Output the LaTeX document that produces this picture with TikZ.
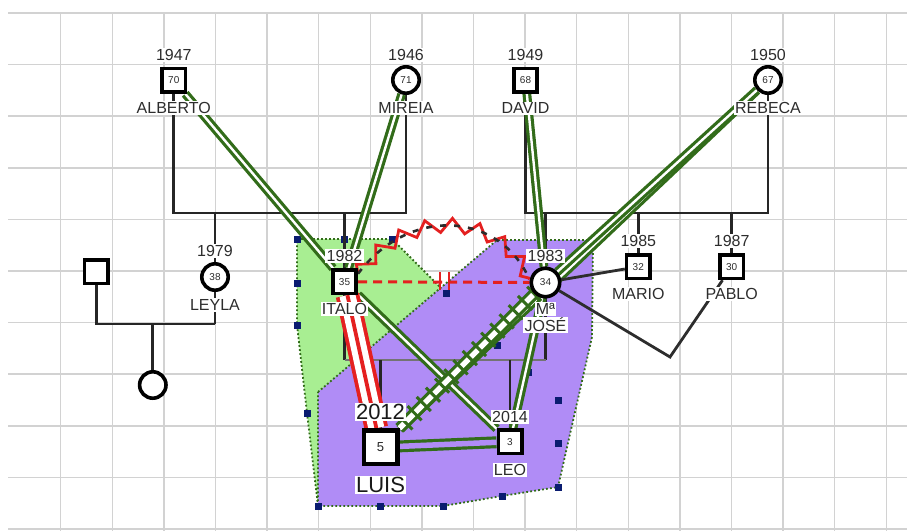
\documentclass[tikz,border=0pt]{standalone}
\usepackage{fontspec}
\setmainfont{Liberation Sans}
\usetikzlibrary{calc,decorations.pathmorphing,decorations.pathreplacing}

\definecolor{gridgray}{RGB}{210,210,210}
\definecolor{bondgreen}{RGB}{50,108,26}
\definecolor{hullgreen}{RGB}{168,238,146}
\definecolor{hullpurple}{RGB}{176,140,246}
\definecolor{marknavy}{RGB}{10,28,112}
\definecolor{hostred}{RGB}{228,32,32}
\definecolor{inkgray}{RGB}{45,45,45}

\pgfdeclarelayer{gridlayer}
\pgfdeclarelayer{linklayer}
\pgfsetlayers{gridlayer,linklayer,main}

\tikzset{
	male/.style={draw=black, line width=3.6pt, fill=white, minimum size=23.4pt, inner sep=0pt,
		text=inkgray, font=\fontsize{10}{10}\selectfont},
	female/.style={male, circle, minimum size=26.4pt},
	yearlab/.style={fill=white, inner sep=1.3pt, text=inkgray, font=\fontsize{16}{16}\selectfont},
	famline/.style={draw=black!85, line width=2.8pt},
	closebond/.style={draw=bondgreen, line width=3.2pt, double=white, double distance=2.4pt},
	hostbond/.style={draw=hostred, line width=3.8pt, double=white, double distance=16pt},
	hullline/.style={draw=bondgreen, line width=1.8pt, dash pattern=on 1.8pt off 2.2pt},
	gridline/.style={draw=gridgray, line width=1.5pt},
}
\def\hullmark(#1,#2){\fill[marknavy] (#1-3.5,#2-3.5) rectangle ++(7,7);}
\def\persontags(#1)(#2:#3)(#4:#5){%
	\node[yearlab] (#1-year) at ([yshift=#2pt]#1) {#3};
	\node[yearlab] (#1-name) at ([yshift=#4pt]#1) {#5};}

\begin{document}
\begin{tikzpicture}[x=1pt, y=-1pt]
			%%%%% START %%%%%
			\useasboundingbox (0,0) rectangle (907,531);
			
			% grandparents
			\node[male] (alberto) at (173.8,80.3) {70};
			\node[female] (mireia) at (406,80) {71};
			\node[male] (david) at (525.5,80.3) {68};
			\node[female] (rebeca) at (768,80) {67};
			\persontags(alberto)(25:1947)(-28:ALBERTO)
			\persontags(mireia)(25:1946)(-28:MIREIA)
			\persontags(david)(25:1949)(-28:DAVID)
			\persontags(rebeca)(25:1950)(-28:REBECA)
			
			% parents
			\node[female] (leyla) at (215,277) {38};
			\node[male] (partner) at (96.3,271.7) {};
			\node[female] (daughter) at (152.8,385) {};
			\node[male] (italo) at (344.5,281.7) {35};
			\node[female, minimum size=28.4pt] (jose) at (545.5,282.5) {34};
			\node[male] (mario) at (638.3,266.7) {32};
			\node[male] (pablo) at (731.7,266.7) {30};
			\persontags(leyla)(26:1979)(-28:LEYLA)
			\persontags(italo)(25.5:1982)(-27.5:ITALO)
			\persontags(mario)(25.5:1985)(-27.5:MARIO)
			\persontags(pablo)(25.5:1987)(-27.5:PABLO)
			\node[yearlab] (jose-year) at ([yshift=26.5pt]jose) {1983};
			\node[yearlab] (jose-name) at ([yshift=-26.5pt]jose) {Mª};
			\node[yearlab] (jose-name2) at ([yshift=-42.5pt]jose) {JOSÉ};
			
			% children
			\node[male, minimum size=33.6pt, line width=4.4pt, text=black!85, font=\fontsize{13}{13}\selectfont] (luis) at (380.5,447.2) {5};
			\node[male] (leo) at (510,441.7) {3};
			\node[yearlab, text=black!90, font=\fontsize{22}{22}\selectfont] (luis-year) at ([yshift=35.2pt]luis) {2012};
			\node[yearlab, text=black!90, font=\fontsize{22}{22}\selectfont] (luis-name) at ([yshift=-37.8pt]luis) {LUIS};
			\persontags(leo)(24.7:2014)(-28.3:LEO)
			
			\begin{pgfonlayer}{linklayer}
				\coordinate (barA) at (0,213);
				\coordinate (barL) at (0,324);
				\coordinate (barI) at (0,360);
				\coordinate (pabloBend) at (670,357);
				
				% family lines
				\draw[famline] (alberto) -- (alberto |- barA) -- (mireia |- barA) -- (mireia);
				\draw[famline] (david) -- (david |- barA) -- (rebeca |- barA) -- (rebeca);
				\draw[famline] (leyla |- barA) -- (leyla |- barL);
				\draw[famline] (partner) -- (partner |- barL) -- (leyla |- barL);
				\draw[famline] (daughter |- barL) -- (daughter);
				\draw[famline] (italo |- barA) -- (italo |- barI);
				\draw[famline] (jose |- barA) -- (jose |- barI);
				\draw[famline] (mario |- barA) -- (mario);
				\draw[famline] (pablo |- barA) -- (pablo);
				\draw[famline, draw=black!55] (italo |- barI) -- (jose |- barI);
				\draw[famline] (luis |- barI) -- (luis);
				\draw[famline] (leo |- barI) -- (leo);
				
				% close bonds
				\draw[closebond] (alberto) -- (italo);
				\draw[closebond] (mireia) -- (italo);
				\draw[closebond] (david) -- (jose);
				\draw[closebond] (rebeca) -- (luis);
				\draw[closebond] (rebeca) -- (jose);
				\draw[closebond] (italo) -- (leo);
				\draw[closebond] (jose) -- (leo);
				\draw[closebond, line width=3.2pt, double=hullpurple, double distance=5.5pt] (luis) -- (leo);
				
				% fused
				\draw[closebond, double distance=5.4pt] (jose) -- (luis);
				\draw[bondgreen, line width=3pt, decorate, decoration={ticks, segment length=13pt, amplitude=10pt}] (jose) -- (luis);
				
				% hostile
				\draw[hostbond] (italo) -- (luis);
				\draw[hostred, line width=3.8pt] (italo) -- (luis);
				\draw[hostred, line width=3pt, dash pattern=on 9pt off 6pt] (italo) -- (jose);
				\draw[hostred, line width=2.8pt] (440,272) -- (440,290) (449,272) -- (449,290);
				\draw[hostred, line width=2.8pt, decorate, decoration={zigzag, segment length=26pt, amplitude=7pt}]
					([yshift=8pt]italo.east) .. controls (410,205) and (500,212) .. ([yshift=3pt]jose.west);
				\draw[inkgray, line width=2.6pt, dash pattern=on 6pt off 8pt]
					([yshift=8pt]italo.east) .. controls (410,205) and (500,212) .. ([yshift=3pt]jose.west);
				
				% others
				\draw[famline, draw=inkgray] (jose) -- (mario);
				\draw[famline, draw=inkgray] (jose) -- (pabloBend) -- (pablo);
			\end{pgfonlayer}
			
			\begin{pgfonlayer}{gridlayer}
				\foreach \k in {0,...,16}
					\draw[gridline] ({60.7+51.6*\k},13) -- ({60.7+51.6*\k},531);
				\foreach \k in {0,...,10}
					\draw[gridline] (8,{13+51.6*\k}) -- (907,{13+51.6*\k});
				
				% hulls
				\fill[hullgreen] (297,239) -- (392,239) -- (446,293) -- (318,506) -- (307,413) -- (297,325) -- cycle;
				\draw[hullline] (297,239) -- (392,239) -- (446,293) -- (318,506) -- (307,413) -- (297,325) -- cycle;
				\fill[hullpurple] (318,392) -- (497,240) -- (593,240) -- (592,337) -- (558,487) -- (502,496) -- (443,506) -- (318,506) -- cycle;
				\draw[hullline] (318,392) -- (497,240) -- (593,240) -- (592,337) -- (558,487) -- (502,496) -- (443,506) -- (318,506) -- cycle;
				
				\hullmark(297,239) \hullmark(344,239) \hullmark(392,239)
				\hullmark(297,283) \hullmark(297,325) \hullmark(307,413)
				\hullmark(446,293) \hullmark(318,506) \hullmark(380,506)
				\hullmark(443,506) \hullmark(502,496) \hullmark(558,487)
				\hullmark(558,443) \hullmark(558,400) \hullmark(528,372)
				\hullmark(497,345)
			\end{pgfonlayer}
			%%%%% END %%%%%
\end{tikzpicture}
\end{document}
